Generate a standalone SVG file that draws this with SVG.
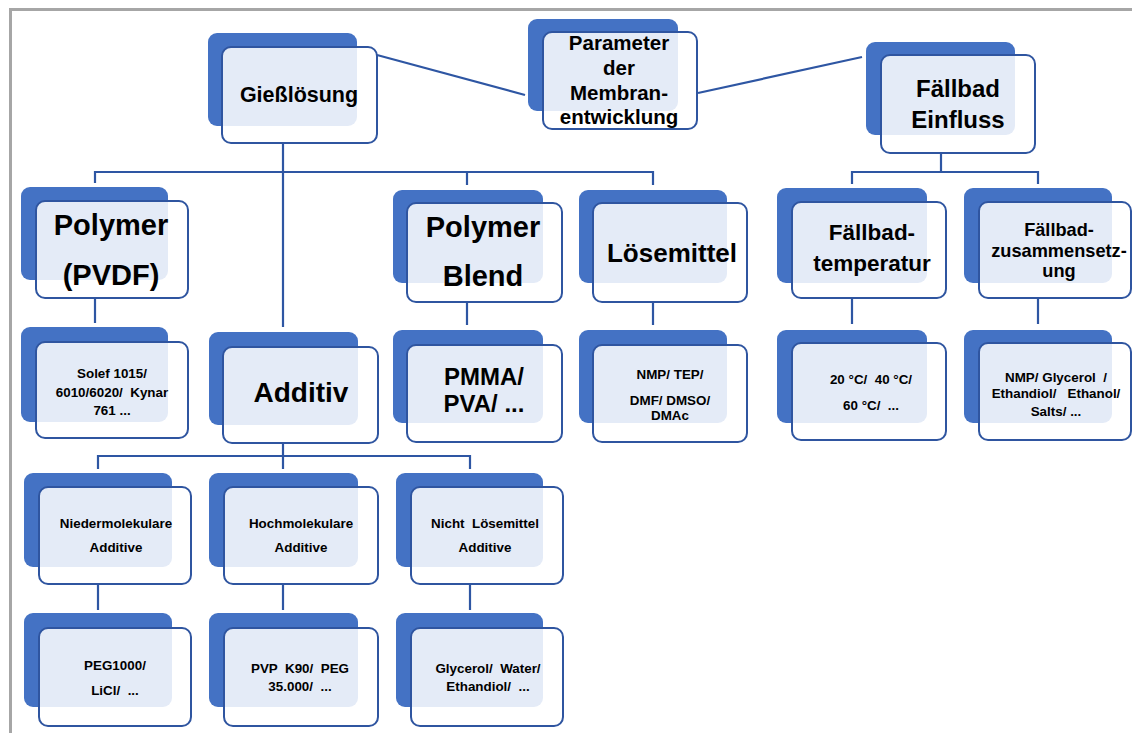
<svg xmlns="http://www.w3.org/2000/svg" width="1132" height="733" viewBox="0 0 1132 733">
<style>
.back{fill:#4472c4}
.front{fill:#ffffff;fill-opacity:0.86;stroke:#2f55a0;stroke-width:2}
.conn{fill:none;stroke:#2e56a3;stroke-width:2.2}
text{font-family:"Liberation Sans",Arial,sans-serif;font-weight:bold;fill:#000;text-anchor:middle;white-space:pre}
.s{font-size:13.4px}
.frame{fill:none;stroke:#a6a6a6;stroke-width:3}
</style>
<rect width="1132" height="733" fill="#fff"/>
<path class="frame" d="M10.5 733 V9.5 H1132"/>
<g id="connectors">
<path class="conn" d="M377 55 L525 95"/>
<path class="conn" d="M698 93 L862 57"/>
<path class="conn" d="M283 143 V327 M95 183 V172 H653 V185 M467 172 V185"/>
<path class="conn" d="M941 153 V172 M852 184 V172 H1038 V184"/>
<path class="conn" d="M95 298 V323 M467 302 V325 M653 302 V325 M852 298 V324 M1038 298 V324"/>
<path class="conn" d="M283 443 V456 M98 469 V456 H470 V469 M283 456 V469"/>
<path class="conn" d="M98 584 V610 M283 584 V610 M470 584 V610"/>
</g>
<g id="giessloesung"><rect class="back" x="208" y="33" width="149" height="93" rx="9"/><rect class="front" x="222" y="47" width="155" height="96" rx="9"/><text x="299" y="102" font-size="21.5">Gießlösung</text></g>
<g id="parameter"><rect class="back" x="528" y="19" width="150" height="92" rx="9"/><rect class="front" x="543" y="32" width="154" height="97" rx="9"/><text x="619" y="50" font-size="20.5">Parameter</text><text x="619" y="75" font-size="20.5">der</text><text x="619" y="100" font-size="20.5">Membran-</text><text x="619" y="124" font-size="20.5">entwicklung</text></g>
<g id="faellbad-einfluss"><rect class="back" x="866" y="42" width="149" height="93" rx="9"/><rect class="front" x="881" y="55" width="154" height="98" rx="9"/><text x="958" y="97" font-size="24">Fällbad</text><text x="958" y="128" font-size="24">Einfluss</text></g>
<g id="polymer-pvdf"><rect class="back" x="21" y="187" width="147" height="93" rx="9"/><rect class="front" x="36" y="201" width="152" height="97" rx="9"/><text x="111" y="235" font-size="29">Polymer</text><text x="111" y="285" font-size="29">(PVDF)</text></g>
<g id="solef"><rect class="back" x="21" y="327" width="147" height="95" rx="9"/><rect class="front" x="36" y="342" width="152" height="96" rx="9"/><text class="s" x="112" y="378">Solef 1015/</text><text class="s" x="112" y="397">6010/6020/  Kynar</text><text class="s" x="112" y="415">761 ...</text></g>
<g id="additiv"><rect class="back" x="209" y="332" width="149" height="93" rx="9"/><rect class="front" x="223" y="347" width="155" height="96" rx="9"/><text x="301" y="402" font-size="28">Additiv</text></g>
<g id="polymer-blend"><rect class="back" x="393" y="190" width="150" height="93" rx="9"/><rect class="front" x="407" y="203" width="155" height="99" rx="9"/><text x="483" y="237" font-size="29">Polymer</text><text x="483" y="286" font-size="29">Blend</text></g>
<g id="loesemittel"><rect class="back" x="579" y="190" width="148" height="93" rx="9"/><rect class="front" x="593" y="203" width="154" height="99" rx="9"/><text x="672" y="262" font-size="26">Lösemittel</text></g>
<g id="faellbad-temperatur"><rect class="back" x="777" y="188" width="150" height="95" rx="9"/><rect class="front" x="792" y="202" width="154" height="96" rx="9"/><text x="872" y="240" font-size="22.5">Fällbad-</text><text x="872" y="271" font-size="22.5">temperatur</text></g>
<g id="faellbad-zusammensetzung"><rect class="back" x="964" y="188" width="148" height="95" rx="9"/><rect class="front" x="979" y="202" width="152" height="96" rx="9"/><text x="1059" y="236" font-size="18.2">Fällbad-</text><text x="1059" y="256.6" font-size="18.2">zusammensetz-</text><text x="1059" y="277.2" font-size="18.2">ung</text></g>
<g id="pmma"><rect class="back" x="393" y="330" width="150" height="93" rx="9"/><rect class="front" x="407" y="345" width="155" height="97" rx="9"/><text x="484" y="385" font-size="24">PMMA/</text><text x="484" y="412" font-size="24">PVA/ ...</text></g>
<g id="nmp-tep"><rect class="back" x="579" y="330" width="148" height="93" rx="9"/><rect class="front" x="593" y="345" width="154" height="97" rx="9"/><text class="s" x="670" y="379">NMP/ TEP/</text><text class="s" x="670" y="405">DMF/ DMSO/</text><text class="s" x="670" y="420.2">DMAc</text></g>
<g id="temperaturen"><rect class="back" x="777" y="330" width="150" height="93" rx="9"/><rect class="front" x="792" y="343" width="154" height="97" rx="9"/><text class="s" x="871" y="384">20 °C/  40 °C/</text><text class="s" x="871" y="410">60 °C/  ...</text></g>
<g id="nmp-glycerol"><rect class="back" x="964" y="330" width="148" height="93" rx="9"/><rect class="front" x="979" y="343" width="152" height="97" rx="9"/><text class="s" x="1056" y="382">NMP/ Glycerol  /</text><text class="s" x="1056" y="398">Ethandiol/   Ethanol/</text><text class="s" x="1056" y="416">Salts/ ...</text></g>
<g id="niedermolekulare"><rect class="back" x="24" y="473" width="148" height="94" rx="9"/><rect class="front" x="39" y="487" width="152" height="97" rx="9"/><text class="s" x="116" y="528">Niedermolekulare</text><text class="s" x="116" y="552">Additive</text></g>
<g id="hochmolekulare"><rect class="back" x="209" y="473" width="149" height="94" rx="9"/><rect class="front" x="224" y="487" width="154" height="97" rx="9"/><text class="s" x="301" y="528">Hochmolekulare</text><text class="s" x="301" y="552">Additive</text></g>
<g id="nicht-loesemittel"><rect class="back" x="396" y="473" width="147" height="94" rx="9"/><rect class="front" x="411" y="487" width="152" height="97" rx="9"/><text class="s" x="485" y="528">Nicht  Lösemittel</text><text class="s" x="485" y="552">Additive</text></g>
<g id="peg1000"><rect class="back" x="24" y="613" width="148" height="94" rx="9"/><rect class="front" x="39" y="628" width="152" height="98" rx="9"/><text class="s" x="115" y="670">PEG1000/</text><text class="s" x="115" y="695">LiCl/  ...</text></g>
<g id="pvp"><rect class="back" x="209" y="613" width="149" height="94" rx="9"/><rect class="front" x="224" y="628" width="154" height="98" rx="9"/><text class="s" x="300" y="673">PVP  K90/  PEG</text><text class="s" x="300" y="691">35.000/  ...</text></g>
<g id="glycerol-water"><rect class="back" x="396" y="613" width="147" height="94" rx="9"/><rect class="front" x="411" y="628" width="152" height="98" rx="9"/><text class="s" x="488" y="673">Glycerol/  Water/</text><text class="s" x="488" y="691">Ethandiol/  ...</text></g>
</svg>
